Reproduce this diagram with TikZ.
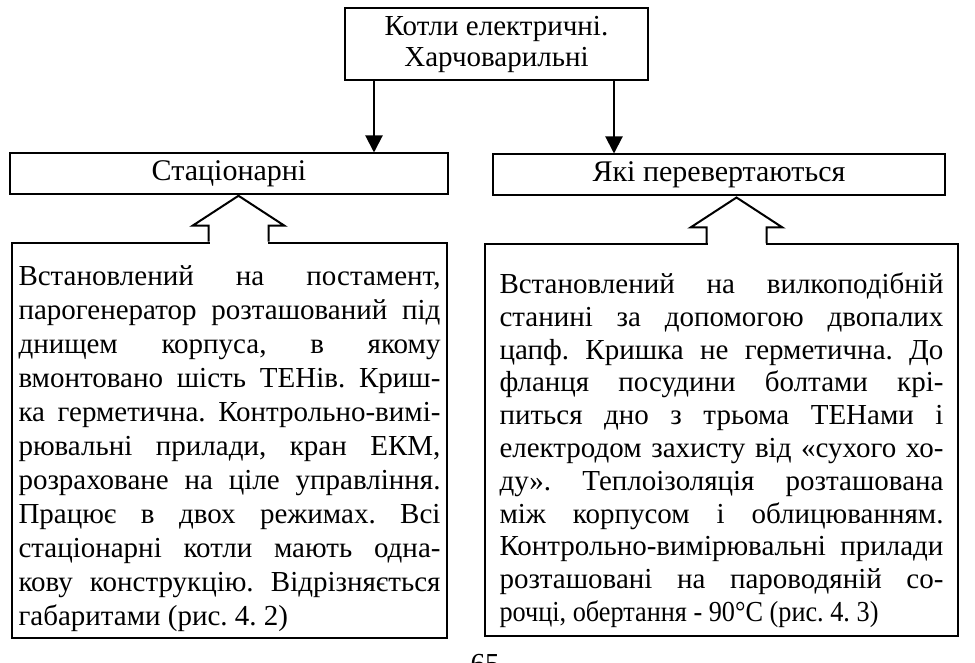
\documentclass[tikz,border=0pt]{standalone}
\usepackage{fontspec}
\setmainfont{Liberation Serif}
\usetikzlibrary{arrows.meta,calc}
\tolerance=10000
\hyphenpenalty=10000
\frenchspacing

\begin{document}
\begin{tikzpicture}[
  x = 0.5pt, y = -0.5pt,
  line width = 1pt,
  head/.style = {draw, align = center,
    font = \fontsize{14.5}{15.5}\selectfont,
    minimum width = 151.5pt, minimum height = 36pt},
  kind/.style = {draw,
    font = \fontsize{15}{17}\selectfont,
    minimum height = 20.5pt},
  note/.style = {draw, align = justify, inner xsep = 0pt,
    minimum height = 195.5pt},
  conn/.style = {-{Triangle[length = 8.5pt, width = 8.5pt]}},
  upblock/.pic = {
    \fill [white] (-29,2) rectangle (29,-16);
    \draw (-30,0) -- (-30,-16) -- (-46,-16) -- (0,-46)
      -- (46,-16) -- (30,-16) -- (30,0);}
  ]
  \useasboundingbox (0,0) rectangle (975,663);

  % title and the two kinds
  \node [head] (kotly) at (496.5,44) {Котли електричні.\\Харчоварильні};
  \node [kind, minimum width = 219pt] (stats) at (229,174) {Стаціонарні};
  \node [kind, minimum width = 226pt] (perev) at (719,175) {Які перевертаються};

  \coordinate (dS) at ($(kotly.south west)+(30,0)$);
  \coordinate (dP) at ($(kotly.south east)+(-35,0)$);
  \draw [conn] (dS) -- (dS |- stats.north);
  \draw [conn] (dP) -- (dP |- perev.north);

  % descriptions
  \node [note, font = \fontsize{14.5}{17}\selectfont,
    text width = 211pt, minimum width = 217.5pt] (txtS) at (229.5,440.5) {%
    \rule{0pt}{18pt}Встановлений на постамент,\linebreak
    парогенератор розташований під\linebreak
    днищем корпуса, в якому\linebreak
    вмонтовано шість ТЕНів. Криш-\linebreak
    ка герметична. Контрольно-вимі-\linebreak
    рювальні прилади, кран ЕКМ,\linebreak
    розраховане на ціле управління.\linebreak
    Працює в двох режимах. Всі\linebreak
    стаціонарні котли мають одна-\linebreak
    кову конструкцію. Відрізняється\linebreak
    габаритами (рис. 4. 2)};
  \node [note, font = \fontsize{14.5}{16.4}\selectfont,
    text width = 222pt, minimum width = 236.5pt] (txtP) at (721.5,440) {%
    \rule{0pt}{20.5pt}Встановлений на вилкоподібній\linebreak
    станині за допомогою двопалих\linebreak
    цапф. Кришка не герметична. До\linebreak
    фланця посудини болтами крі-\linebreak
    питься дно з трьома ТЕНами і\linebreak
    електродом захисту від «сухого хо-\linebreak
    ду». Теплоізоляція розташована\linebreak
    між корпусом і облицюванням.\linebreak
    Контрольно-вимірювальні прилади\linebreak
    розташовані на пароводяній со-\linebreak
    \resizebox{189.5pt}{\height}{рочці, обертання - 90°C (рис. 4. 3)}};

  \pic at ([xshift = 4.5pt]txtS.north) {upblock};
  \pic at ([xshift = 7.5pt]txtP.north) {upblock};

  \node [font = \fontsize{14.5}{17}\selectfont, anchor = base] (page) at (485,673) {65};
\end{tikzpicture}
\end{document}
